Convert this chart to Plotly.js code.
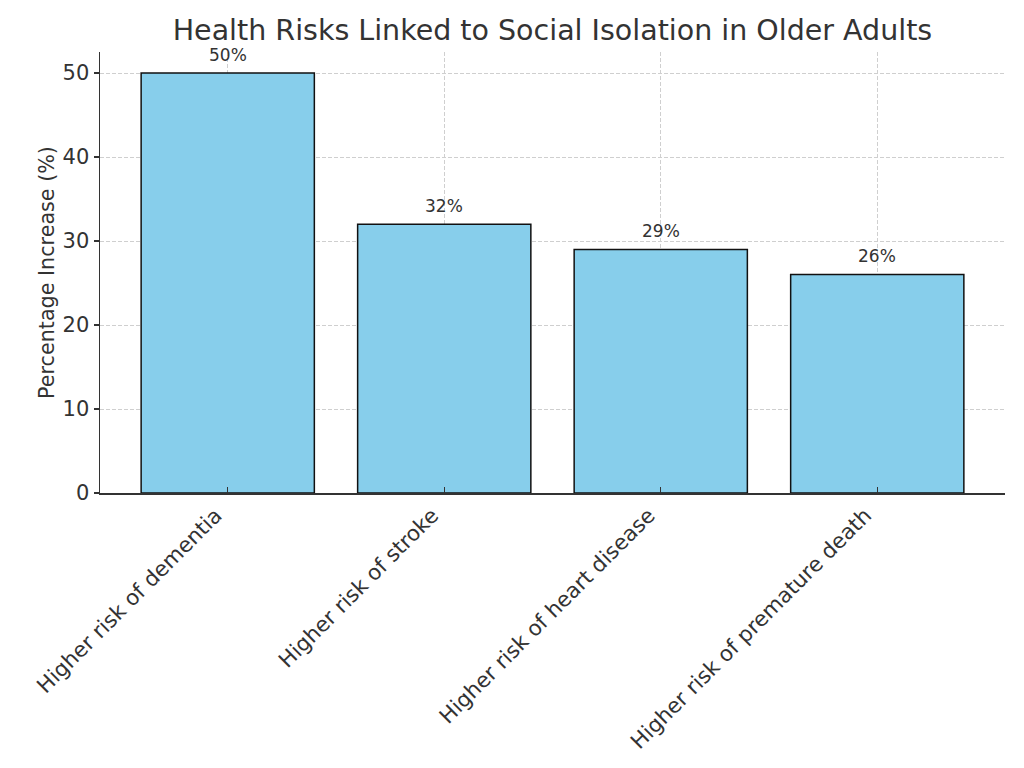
<!DOCTYPE html>
<html>
<head>
<meta charset="utf-8">
<script src="https://cdn.plot.ly/plotly-3.0.1.min.js"></script>
<style>html,body{margin:0;padding:0;background:#fff;}#chart{width:1024px;height:768px;}</style>
</head>
<body>
<div id="chart"></div>
<script>
const categories = ["Higher risk of dementia", "Higher risk of stroke", "Higher risk of heart disease", "Higher risk of premature death"];
const values = [50, 32, 29, 26];
const labels = ["50%", "32%", "29%", "26%"];

const font = "DejaVu Sans, sans-serif";
const txt = "#333333";

const trace = {
  type: "bar",
  x: categories,
  y: values,
  width: 0.8,
  marker: {color: "#87CEEB", line: {color: "#111111", width: 1.5}},
  hoverinfo: "none"
};

const annotations = categories.map((c, i) => ({
  x: c, y: values[i] + 1, xref: "x", yref: "y",
  text: labels[i], showarrow: false, yanchor: "bottom", yshift: -2,
  font: {family: font, size: 17, color: txt}
}));

const layout = {
  width: 1024, height: 768,
  margin: {l: 100, r: 19, t: 52, b: 275},
  paper_bgcolor: "#fff", plot_bgcolor: "#fff",
  title: {text: "Health Risks Linked to Social Isolation in Older Adults",
    font: {family: font, size: 28.5, color: txt}, x: 0.5395, xanchor: "center", y: 0.961, yanchor: "middle"},
  xaxis: {
    type: "category", range: [-0.59, 3.59],
    showline: true, linecolor: txt, linewidth: 1.5,
    ticks: "inside", ticklen: 6, tickcolor: txt, tickwidth: 1.2,
    tickangle: -45, tickfont: {family: font, size: 21.3, color: txt},
    ticklabelshift: -12,
    showgrid: true, gridcolor: "#cfcfcf", griddash: "4px,2px", gridwidth: 1,
    layer: "above traces", zeroline: false
  },
  yaxis: {
    range: [0, 52.5], tickvals: [0, 10, 20, 30, 40, 50],
    showline: true, linecolor: txt, linewidth: 1.5,
    ticks: "outside", ticklen: 5, tickcolor: txt, tickwidth: 1.2,
    tickfont: {family: font, size: 21, color: txt},
    title: {text: "Percentage Increase (%)", font: {family: font, size: 20.7, color: txt}, standoff: 2},
    showgrid: true, gridcolor: "#cfcfcf", griddash: "4px,2px", gridwidth: 1,
    layer: "above traces", zeroline: false
  },
  annotations: annotations,
  showlegend: false
};

Plotly.newPlot("chart", [trace], layout, {staticPlot: true, displayModeBar: false});
</script>
</body>
</html>
